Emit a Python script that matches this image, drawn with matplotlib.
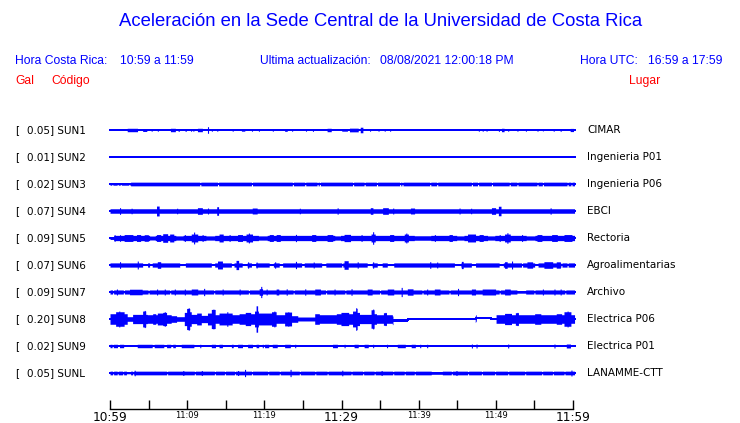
import numpy as np
import matplotlib
matplotlib.use("Agg")
import matplotlib.pyplot as plt

# --- Estaciones (de arriba a abajo) ---
stations = ["SUN1", "SUN2", "SUN3", "SUN4", "SUN5", "SUN6", "SUN7", "SUN8", "SUN9", "SUNL"]
peak_gal = [0.05, 0.01, 0.02, 0.07, 0.09, 0.07, 0.09, 0.20, 0.02, 0.05]
places = ["CIMAR", "Ingenieria P01", "Ingenieria P06", "EBCI", "Rectoria",
          "Agroalimentarias", "Archivo", "Electrica P06", "Electrica P01", "LANAMME-CTT"]

# amplitud de fondo (gal, media envolvente)
base_amp = [0.0, 0.0, 0.028, 0.034, 0.04, 0.032, 0.031, 0.0, 0.0, 0.028]

# eventos: (minuto, amp) o (minuto_ini, minuto_fin, amp); minutos desde 10:59
sun1 = [(2.3, 3.5, 0.026), (4.3, 4.7, 0.022), (5.4, 0.018), (6.2, 0.018), (7.9, 8.4, 0.026),
        (8.9, 0.022), (9.8, 0.022), (10.5, 0.018), (10.8, 0.018), (11.4, 11.9, 0.026),
        (12.7, 0.05), (13.2, 0.018), (13.9, 0.018), (15.9, 0.018), (17.1, 17.4, 0.018),
        (18.4, 0.018), (19.3, 0.018), (21.1, 0.018), (22.7, 22.9, 0.02), (23.6, 0.018),
        (25.4, 0.018), (26.3, 0.02), (28.2, 28.6, 0.026), (30.1, 30.7, 0.018),
        (31.1, 32.1, 0.028), (32.5, 32.7, 0.042), (33.7, 0.018), (34.8, 0.018), (35.6, 0.018),
        (36.3, 0.018), (47.8, 0.018), (48.3, 0.018), (48.8, 0.018), (50.4, 0.02),
        (50.8, 51.0, 0.026), (51.6, 0.018), (52.8, 0.018), (53.9, 0.018), (55.4, 0.018),
        (56.1, 0.014), (57.5, 0.018), (58.4, 0.02), (59.7, 60.0, 0.024)]
sun2 = []
sun3 = [(0.0, 2.6, 0.018), (0.3, 0.008), (1.0, 0.008), (1.4, 0.008), (2.5, 0.008),
        (11.7, 0.008), (14.0, 0.008), (18.4, 0.008), (23.7, 0.008), (25.3, 0.008),
        (26.9, 0.008), (27.2, 0.008), (31.5, 0.008), (33.0, 0.008), (34.6, 0.008),
        (37.6, 0.008), (37.9, 0.008), (41.5, 0.008), (42.4, 0.008), (46.9, 0.008),
        (47.7, 0.008), (49.5, 0.008), (51.8, 0.008), (52.8, 0.008), (55.4, 0.008),
        (56.1, 0.008), (59.3, 0.008), (59.8, 0.008)]
sun4 = [(1.3, 0.05), (2.8, 0.042), (6.1, 6.3, 0.075), (8.7, 0.042), (11.4, 11.9, 0.05),
        (12.7, 0.045), (13.9, 14.0, 0.065), (18.5, 19.0, 0.045), (24.6, 0.042), (29.5, 0.048),
        (33.8, 34.0, 0.05), (35.4, 36.0, 0.05), (36.7, 0.045), (39.0, 39.4, 0.045),
        (45.3, 0.045), (46.8, 0.042), (49.5, 49.9, 0.05), (50.4, 50.6, 0.072), (57.1, 0.048)]
sun5 = [(0.0, 0.4, 0.022), (5.2, 5.8, 0.03), (8.6, 9.4, 0.032), (12.5, 13.5, 0.032),
        (19.3, 20.3, 0.032), (29.2, 29.8, 0.032), (39.5, 41.5, 0.034), (45.0, 45.8, 0.032),
        (49.0, 49.8, 0.032), (54.0, 55.0, 0.032),
        (0.6, 0.05), (1.3, 0.05), (1.9, 2.9, 0.052), (3.5, 3.9, 0.052), (4.5, 4.9, 0.05),
        (6.1, 6.5, 0.052), (6.9, 7.4, 0.065), (7.8, 8.2, 0.06), (9.7, 0.052), (10.6, 11.3, 0.06),
        (10.9, 0.09), (12.0, 0.052), (14.2, 14.6, 0.06), (15.5, 0.052), (16.6, 17.1, 0.052),
        (17.7, 18.4, 0.06), (18.0, 0.075), (20.7, 21.1, 0.052), (21.6, 22.0, 0.052), (24.1, 0.055),
        (26.2, 26.6, 0.052), (28.2, 28.8, 0.052), (30.4, 31.1, 0.055), (32.6, 0.052),
        (33.9, 34.3, 0.06), (34.1, 0.095), (36.3, 36.7, 0.052), (38.2, 38.6, 0.06), (38.4, 0.075),
        (42.1, 0.052), (44.0, 44.3, 0.052), (46.4, 47.3, 0.06), (47.9, 48.3, 0.052), (50.5, 0.052),
        (51.2, 51.8, 0.06), (51.5, 0.08), (53.4, 0.052), (55.4, 55.9, 0.052), (57.3, 57.9, 0.052),
        (58.9, 59.8, 0.052)]
sun6 = [(4.3, 4.8, 0.008), (5.2, 5.4, 0.008), (9.1, 9.7, 0.008), (13.2, 13.5, 0.008),
        (15.8, 16.0, 0.008), (17.2, 17.7, 0.008), (18.4, 18.8, 0.008), (20.7, 21.1, 0.008),
        (22.0, 22.3, 0.008), (24.9, 25.1, 0.008), (27.5, 27.9, 0.008), (30.1, 0.008),
        (33.4, 33.9, 0.008), (34.7, 35.2, 0.008), (36.0, 36.7, 0.008), (44.7, 45.4, 0.008),
        (46.9, 47.3, 0.008), (50.5, 50.9, 0.008), (53.4, 0.008), (55.1, 55.4, 0.008),
        (58.5, 0.008), (59.3, 0.008),
        (1.3, 0.05), (3.6, 0.06), (6.2, 6.5, 0.05), (14.0, 14.5, 0.06), (16.4, 16.6, 0.07),
        (17.9, 0.048), (19.0, 0.045), (21.4, 0.048), (24.1, 0.055), (26.4, 0.045),
        (30.4, 30.8, 0.065), (32.1, 0.048), (34.1, 0.048), (41.5, 0.05), (42.4, 0.045),
        (45.6, 45.7, 0.055), (51.2, 51.4, 0.05), (52.1, 0.06), (54.1, 54.7, 0.048),
        (56.3, 57.3, 0.05), (57.9, 58.3, 0.048)]
sun7 = [(0.4, 0.012), (1.8, 0.012), (5.0, 0.012), (7.8, 0.012), (13.5, 0.012), (18.0, 0.012),
        (23.8, 0.012), (28.0, 0.012), (30.5, 0.012), (35.0, 0.012), (40.5, 0.012), (44.0, 0.012),
        (50.5, 0.012), (55.0, 0.012), (59.0, 0.012),
        (0.9, 0.045), (2.6, 4.1, 0.042), (6.1, 0.045), (7.1, 0.045), (8.4, 0.045), (9.7, 0.045),
        (10.6, 11.3, 0.045), (12.2, 0.055), (14.6, 0.045), (16.8, 0.045), (19.4, 19.7, 0.05),
        (19.6, 0.085), (20.3, 0.045), (21.6, 21.8, 0.045), (22.9, 0.048), (25.3, 0.048),
        (26.6, 27.2, 0.045), (29.1, 0.045), (31.3, 0.05), (33.4, 33.9, 0.045), (36.0, 36.7, 0.045),
        (37.8, 0.07), (38.6, 39.2, 0.048), (41.1, 0.045), (42.1, 42.7, 0.045), (45.1, 0.055),
        (46.9, 47.3, 0.045), (48.3, 49.9, 0.045), (51.2, 51.8, 0.045), (52.8, 53.8, 0.018),
        (56.1, 0.045), (57.6, 0.045), (58.4, 0.045)]
sun8 = [(0.0, 0.8, 0.08), (0.8, 1.9, 0.11), (1.9, 2.3, 0.08), (2.3, 3.0, 0.035), (3.0, 4.3, 0.07),
        (4.3, 4.7, 0.12), (4.7, 4.9, 0.07), (4.9, 5.6, 0.065), (5.6, 6.0, 0.08), (6.0, 6.2, 0.065),
        (6.2, 6.9, 0.09), (6.9, 7.4, 0.1), (7.4, 8.0, 0.065), (8.0, 8.7, 0.05), (8.7, 9.7, 0.035),
        (9.7, 10.0, 0.1), (10.0, 10.4, 0.16), (10.4, 10.6, 0.11), (10.6, 11.3, 0.07),
        (11.3, 11.9, 0.09), (11.9, 12.7, 0.055), (12.7, 13.2, 0.09), (13.2, 13.7, 0.145),
        (13.7, 14.2, 0.065), (14.2, 15.9, 0.09), (15.9, 16.8, 0.065), (16.8, 17.6, 0.08),
        (17.6, 18.3, 0.1), (18.3, 18.8, 0.08), (18.8, 19.0, 0.12), (19.0, 19.1, 0.2),
        (19.1, 19.3, 0.12), (19.3, 21.0, 0.09), (21.0, 21.6, 0.11), (21.6, 22.7, 0.065),
        (22.7, 23.6, 0.105), (23.6, 24.4, 0.05), (24.4, 26.6, 0.03), (26.6, 27.2, 0.08),
        (27.2, 29.4, 0.065), (29.4, 30.0, 0.08), (30.0, 31.0, 0.1), (31.0, 31.5, 0.08),
        (31.5, 31.9, 0.12), (31.9, 32.1, 0.16), (32.1, 32.4, 0.1), (32.4, 33.9, 0.07),
        (33.9, 34.3, 0.14), (34.3, 34.6, 0.08), (34.6, 35.5, 0.065), (35.5, 35.9, 0.095),
        (35.9, 36.6, 0.065), (47.4, 0.05), (50.1, 51.2, 0.065), (51.2, 52.1, 0.085),
        (52.1, 52.6, 0.065), (52.6, 53.0, 0.095), (53.0, 55.1, 0.065), (55.1, 55.9, 0.08),
        (55.9, 57.9, 0.065), (57.9, 58.6, 0.08), (58.6, 58.9, 0.065), (58.9, 59.8, 0.11),
        (59.8, 60.2, 0.065)]
# picos finos dentro de SUN8 (minuto, amp)
sun8_spikes = [(1.2, 0.12), (4.5, 0.13), (7.1, 0.11), (10.2, 0.17), (13.4, 0.15), (15.2, 0.11),
               (19.05, 0.2), (21.3, 0.12), (23.1, 0.11), (31.9, 0.17), (34.1, 0.15), (35.7, 0.1),
               (52.8, 0.1), (59.3, 0.12)]
sun9 = [(0.0, 0.2, 0.026), (0.5, 0.9, 0.026), (1.3, 1.7, 0.026), (3.6, 5.4, 0.026),
        (5.8, 6.9, 0.026), (7.4, 7.8, 0.026), (8.2, 8.4, 0.026), (9.3, 10.8, 0.026),
        (11.7, 0.026), (13.2, 13.6, 0.026), (14.2, 14.5, 0.026), (15.8, 15.9, 0.026),
        (16.6, 17.1, 0.026), (17.9, 18.4, 0.026), (19.0, 19.2, 0.026), (19.8, 0.026),
        (20.1, 20.5, 0.026), (21.1, 21.6, 0.026), (22.7, 23.3, 0.026), (24.0, 0.026),
        (28.9, 29.4, 0.026), (30.4, 0.026), (31.7, 32.1, 0.026), (33.0, 33.4, 0.026),
        (34.1, 0.026), (35.9, 0.026), (37.3, 38.2, 0.026), (39.1, 39.5, 0.026), (40.2, 0.026),
        (41.1, 0.026), (46.9, 0.03), (47.5, 0.03), (51.6, 0.03), (57.6, 0.03),
        (59.2, 59.6, 0.03)]
sunl = [(0.4, 0.012), (1.0, 0.012), (1.7, 0.012), (2.2, 2.6, 0.012), (3.0, 0.012), (7.4, 0.012),
        (11.0, 0.012), (13.6, 0.012), (14.9, 0.012), (16.2, 0.012), (18.4, 0.012), (20.5, 0.012),
        (22.0, 0.012), (24.6, 0.012), (26.6, 0.012), (28.2, 0.012), (31.3, 0.012), (32.8, 0.012),
        (34.3, 0.012), (36.7, 0.012), (38.2, 0.012), (39.5, 0.012), (41.7, 43.0, 0.02),
        (44.3, 0.012), (46.4, 0.012), (48.2, 0.012), (49.9, 0.012), (51.6, 0.012), (53.8, 0.012),
        (56.0, 0.012), (57.4, 0.012), (58.9, 0.012),
        (3.2, 0.042), (9.5, 0.038), (11.9, 0.038), (16.6, 0.038), (17.5, 0.055), (23.4, 0.055),
        (30.1, 0.042), (35.2, 0.038), (44.9, 0.038), (59.8, 0.045)]
events = [sun1, sun2, sun3, sun4, sun5, sun6, sun7, sun8 + sun8_spikes, sun9, sunl]

# desplazamiento de la línea base en SUN8 (gal)
sun8_shift = [(36.6, 38.6, -0.02), (47.4, 49.4, 0.015)]

# --- Eje de tiempo ---
tick_min = [0, 10, 20, 30, 40, 50, 60]
tick_lab = ["10:59", "11:09", "11:19", "11:29", "11:39", "11:49", "11:59"]
tick_big = [True, False, False, True, False, False, True]

BLUE = "#0000ff"
RED = "#ff0000"
W, H = 740, 423
PXG = 66.0          # pixeles por gal
ROW = 27 / PXG      # separación entre trazas en gal
TOP = 15 / PXG

fig = plt.figure(figsize=(W / 100, H / 100), dpi=100)
ax = fig.add_axes([110 / W, 1 - 409 / H, (573 - 110) / W, (409 - 115) / H])

t = np.arange(0, 60.2001, 0.02)


def envelope(base, evs):
    env = np.full_like(t, base)
    for ev in evs:
        if len(ev) == 2:
            t0 = t1 = ev[0]
            a = ev[1]
        else:
            t0, t1, a = ev
        env[(t >= t0 - 0.07) & (t <= t1 + 0.07)] = a
    return env


for i, name in enumerate(stations):
    c = -i * ROW
    env = envelope(base_amp[i], events[i])
    shift = np.zeros_like(t)
    if name == "SUN8":
        for t0, t1, s in sun8_shift:
            shift[(t >= t0) & (t <= t1)] = s
    ax.plot(t, c + shift, color=BLUE, lw=1.0, clip_on=False, antialiased=False)
    ax.fill_between(t, c + shift - env, c + shift + env, color=BLUE, lw=0,
                    step="mid", clip_on=False, antialiased=False)
    yp = 130 + i * 27
    fig.text(15 / W, 1 - yp / H, "[", fontsize=7.5, color="black",
             family="DejaVu Sans", va="center", ha="left")
    fig.text(27 / W, 1 - yp / H, f"{peak_gal[i]:.2f}] {name}", fontsize=7.5,
             color="black", family="DejaVu Sans", va="center", ha="left")
    fig.text(587 / W, 1 - yp / H, places[i], fontsize=7.5, color="black",
             family="DejaVu Sans", va="center", ha="left")

ax.set_xlim(0, 60)
ax.set_ylim(TOP - (409 - 115) / PXG, TOP)
for s in ["top", "left", "right"]:
    ax.spines[s].set_visible(False)
ax.spines["bottom"].set_linewidth(1)
ax.set_yticks([])
ax.set_xticks(np.arange(0, 61, 5))
ax.set_xticklabels([])
ax.tick_params(axis="x", direction="in", length=6.5, width=1, color="black")
for m, lab, big in zip(tick_min, tick_lab, tick_big):
    ax.text(m, -0.008, lab, transform=ax.get_xaxis_transform(), ha="center", va="top",
            fontsize=8.7 if big else 6, family="DejaVu Sans", color="black")

# --- Textos de cabecera ---
fig.text(381 / W, 1 - 22 / H, "Aceleración en la Sede Central de la Universidad de Costa Rica",
         fontsize=13.3, color=BLUE, family="Liberation Sans", ha="center", va="center")
hdr = dict(fontsize=8.7, color=BLUE, family="Liberation Sans", va="center")
fig.text(15 / W, 1 - 61 / H, "Hora Costa Rica:", ha="left", **hdr)
fig.text(120 / W, 1 - 61 / H, "10:59 a 11:59", ha="left", **hdr)
fig.text(260 / W, 1 - 61 / H, "Ultima actualización:", ha="left", **hdr)
fig.text(380 / W, 1 - 61 / H, "08/08/2021 12:00:18 PM", ha="left", **hdr)
fig.text(580 / W, 1 - 61 / H, "Hora UTC:", ha="left", **hdr)
fig.text(723 / W, 1 - 61 / H, "16:59 a 17:59", ha="right", **hdr)
red = dict(fontsize=8.7, color=RED, family="Liberation Sans", va="center")
fig.text(15 / W, 1 - 81 / H, "Gal", ha="left", **red)
fig.text(51 / W, 1 - 81 / H, "Código", ha="left", **red)
fig.text(629 / W, 1 - 81 / H, "Lugar", ha="left", **red)

fig.savefig("out.png", dpi=100)
